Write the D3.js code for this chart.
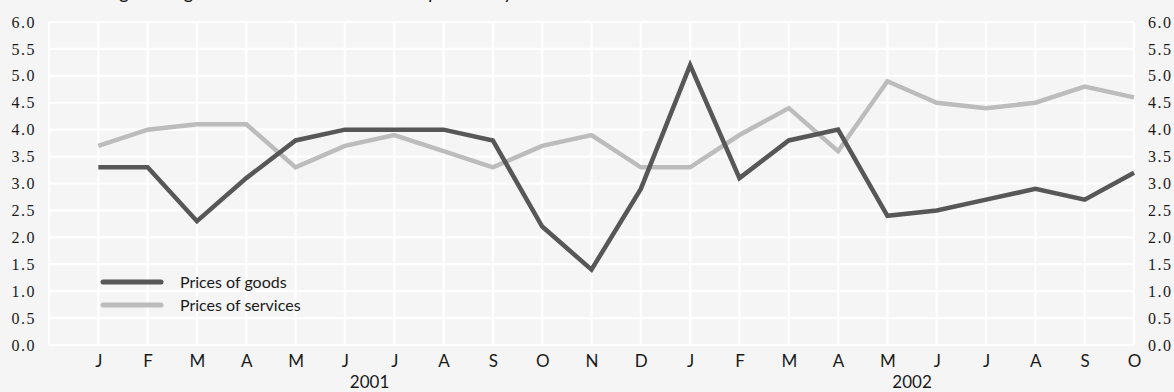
<!DOCTYPE html>
<html>
<head>
<meta charset="utf-8">
<script src="https://cdn.jsdelivr.net/npm/d3@7"></script>
<style>
  html, body { margin: 0; padding: 0; background: #f5f5f5; }
  svg { display: block; }
</style>
</head>
<body>
<script>
// Monthly inflation, Jan 2001 – Oct 2002
const months = ["J","F","M","A","M","J","J","A","S","O","N","D",
                "J","F","M","A","M","J","J","A","S","O"];
const monthYear = [2001,2001,2001,2001,2001,2001,2001,2001,2001,2001,2001,2001,
                   2002,2002,2002,2002,2002,2002,2002,2002,2002,2002];
const goods    = [3.3,3.3,2.3,3.1,3.8,4.0,4.0,4.0,3.8,2.2,1.4,2.9,
                  5.2,3.1,3.8,4.0,2.4,2.5,2.7,2.9,2.7,3.2];
const services = [3.7,4.0,4.1,4.1,3.3,3.7,3.9,3.6,3.3,3.7,3.9,3.3,
                  3.3,3.9,4.4,3.6,4.9,4.5,4.4,4.5,4.8,4.6];
const yTicks = [0,0.5,1,1.5,2,2.5,3,3.5,4,4.5,5,5.5,6];
const years = [2001, 2002];
const seriesNames = ["Prices of goods", "Prices of services"];
const subtitle = "Percentage change on the same month of the previous year";

const W = 1174, H = 392;
const margin = { left: 49, right: 40, top: 22, bottom: 47 };
const colors = ["#575757", "#bcbcbc"];
const serif = "'Liberation Serif', 'DejaVu Serif', serif";
const sans = "Lato, 'Open Sans', sans-serif";
const ink = "#1a1a1a";

const svg = d3.select("body").append("svg").attr("width", W).attr("height", H);
svg.append("rect").attr("width", W).attr("height", H).attr("fill", "#f5f5f5");

// month index; one empty slot before the first month
const x = d3.scaleLinear().domain([-1, months.length - 1]).range([margin.left, W - margin.right]);
const y = d3.scaleLinear().domain([0, 6]).range([H - margin.bottom, margin.top]);

// subtitle sitting above the top edge
svg.append("text")
  .attr("x", 46).attr("y", -1.5)
  .style("font-family", sans).style("font-size", "19px").style("fill", ink)
  .text(subtitle);

// white grid
const grid = svg.append("g").attr("stroke", "#ffffff").attr("stroke-width", 2.2);
grid.selectAll("line.h").data(yTicks).join("line").attr("class", "h")
  .attr("x1", x.range()[0]).attr("x2", x.range()[1])
  .attr("y1", d => y(d)).attr("y2", d => y(d));
grid.selectAll("line.v").data(d3.range(-1, months.length)).join("line").attr("class", "v")
  .attr("y1", y(0)).attr("y2", y(6))
  .attr("x1", d => x(d)).attr("x2", d => x(d));

// y axes on both sides
const yLeft = d3.axisLeft(y).tickValues(yTicks).tickFormat(d3.format(".1f")).tickSize(0).tickPadding(13);
const yRight = d3.axisRight(y).tickValues(yTicks).tickFormat(d3.format(".1f")).tickSize(0).tickPadding(14);
const gl = svg.append("g").attr("transform", `translate(${x.range()[0]},0)`).call(yLeft);
const gr = svg.append("g").attr("transform", `translate(${x.range()[1]},0)`).call(yRight);
[gl, gr].forEach(g => {
  g.select(".domain").remove();
  g.selectAll("text")
    .style("font-family", serif).style("font-size", "16px")
    .style("letter-spacing", "1.5px").style("fill", ink);
});

// month axis
const xAxis = d3.axisBottom(x).tickValues(d3.range(months.length))
  .tickFormat(i => months[i]).tickSize(0).tickPadding(10);
const gx = svg.append("g").attr("transform", `translate(0,${y(0)})`).call(xAxis);
gx.select(".domain").remove();
gx.selectAll("text")
  .style("font-family", sans).style("font-size", "17px").style("fill", ink);

// year labels centred under their months
svg.selectAll("text.year").data(years).join("text")
  .attr("class", "year")
  .attr("text-anchor", "middle")
  .attr("x", yr => d3.mean(d3.range(months.length).filter(i => monthYear[i] === yr), i => x(i)))
  .attr("y", H - 4)
  .style("font-family", sans).style("font-size", "17px").style("fill", ink)
  .text(d => d);

// series lines, services drawn first so goods sits on top
const line = d3.line().x((d, i) => x(i)).y(d => y(d));
[[services, colors[1]], [goods, colors[0]]].forEach(([vals, c]) => {
  svg.append("path").datum(vals)
    .attr("fill", "none")
    .attr("stroke", c)
    .attr("stroke-width", 4.5)
    .attr("stroke-linejoin", "miter")
    .attr("d", line);
});

// legend
const leg = svg.append("g").attr("transform", "translate(103,282)");
seriesNames.forEach((name, i) => {
  const row = leg.append("g").attr("transform", `translate(0,${i * 23})`);
  row.append("line").attr("x1", 0).attr("x2", 58).attr("y1", 0).attr("y2", 0)
    .attr("stroke", colors[i]).attr("stroke-width", 5).attr("stroke-linecap", "round");
  row.append("text").attr("x", 77).attr("y", 0).attr("dy", "0.35em")
    .style("font-family", sans).style("font-size", "16px").style("fill", ink)
    .text(name);
});
</script>
</body>
</html>
